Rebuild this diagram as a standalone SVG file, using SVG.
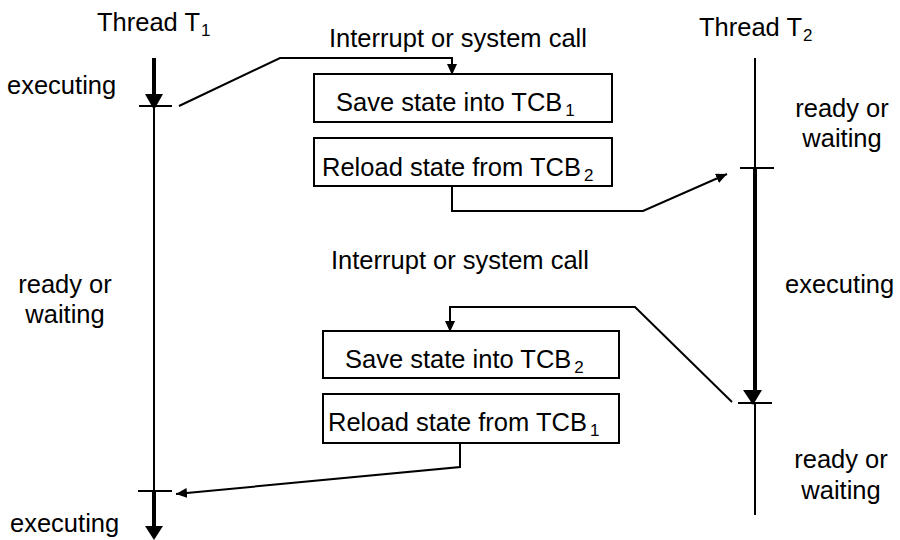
<svg xmlns="http://www.w3.org/2000/svg" width="900" height="540" viewBox="0 0 900 540">
  <style>
    text { font-family: "Liberation Sans", Arial, sans-serif; font-size: 25.5px; fill: #000; }
    .sub { font-size: 17px; }
    .box { fill: #fff; stroke: #000; stroke-width: 2; }
    .thin { fill: none; stroke: #000; stroke-width: 2; }
    .thick { fill: none; stroke: #000; stroke-width: 4; }
    .conn { fill: none; stroke: #000; stroke-width: 2; marker-end: url(#tip); }
    .head { fill: #000; stroke: none; }
  </style>
  <defs>
    <marker id="tip" markerUnits="userSpaceOnUse" markerWidth="12" markerHeight="10" refX="11" refY="5" orient="auto">
      <path d="M0,0 L11,5 L0,10 z" fill="#000"/>
    </marker>
  </defs>

  <rect width="900" height="540" fill="#fff"/>

  <!-- Thread T1 timeline -->
  <g id="thread-t1">
    <text x="97" y="31">Thread T<tspan class="sub" dx="1" dy="5">1</tspan></text>
    <line class="thick" x1="154" y1="58" x2="154" y2="96"/>
    <polygon class="head" points="145,94 163,94 154,110"/>
    <line class="thin" x1="139" y1="106" x2="172" y2="106"/>
    <line class="thin" x1="154" y1="106" x2="154" y2="491"/>
    <line class="thin" x1="138" y1="491" x2="172" y2="491"/>
    <line class="thick" x1="154" y1="491" x2="154" y2="528"/>
    <polygon class="head" points="145,526 163,526 154,540"/>
    <text x="7" y="94">executing</text>
    <text x="65" y="293" text-anchor="middle">ready or</text>
    <text x="65" y="323" text-anchor="middle">waiting</text>
    <text x="10" y="532">executing</text>
  </g>

  <!-- Thread T2 timeline -->
  <g id="thread-t2">
    <text x="699" y="36">Thread T<tspan class="sub" dx="1" dy="5">2</tspan></text>
    <line class="thin" x1="755" y1="58" x2="755" y2="168"/>
    <line class="thin" x1="740" y1="168" x2="774" y2="168"/>
    <line class="thick" x1="755" y1="168" x2="755" y2="392"/>
    <polygon class="head" points="743,390 762,390 753,405"/>
    <line class="thin" x1="738" y1="403" x2="772" y2="403"/>
    <line class="thin" x1="755" y1="403" x2="755" y2="515"/>
    <text x="842" y="117" text-anchor="middle">ready or</text>
    <text x="842" y="147" text-anchor="middle">waiting</text>
    <text x="785" y="293">executing</text>
    <text x="841" y="468" text-anchor="middle">ready or</text>
    <text x="841" y="499" text-anchor="middle">waiting</text>
  </g>

  <!-- Event labels -->
  <g id="event-1">
    <text x="329" y="47">Interrupt or system call</text>
  </g>
  <g id="event-2">
    <text x="331" y="269">Interrupt or system call</text>
  </g>

  <!-- Context-switch steps -->
  <g id="save-tcb1">
    <rect class="box" x="314" y="74" width="298" height="48"/>
    <text x="336" y="111">Save state into TCB<tspan class="sub" dx="3" dy="5">1</tspan></text>
  </g>
  <g id="reload-tcb2">
    <rect class="box" x="314" y="138" width="298" height="48"/>
    <text x="322" y="176">Reload state from TCB<tspan class="sub" dx="3" dy="5">2</tspan></text>
  </g>
  <g id="save-tcb2">
    <rect class="box" x="323" y="331" width="296" height="47"/>
    <text x="345" y="368">Save state into TCB<tspan class="sub" dx="3" dy="5">2</tspan></text>
  </g>
  <g id="reload-tcb1">
    <rect class="box" x="323" y="394" width="296" height="49"/>
    <text x="328" y="431">Reload state from TCB<tspan class="sub" dx="3" dy="5">1</tspan></text>
  </g>

  <!-- Connectors -->
  <g id="connectors">
    <polyline class="conn" points="179,106 280,58 452,58 452,75"/>
    <polyline class="conn" points="452,186 452,211 643,211 727,174"/>
    <polyline class="conn" points="732,402 635,307 450,307 450,332"/>
    <polyline class="conn" points="460,443 460,467 176,494"/>
  </g>
</svg>
